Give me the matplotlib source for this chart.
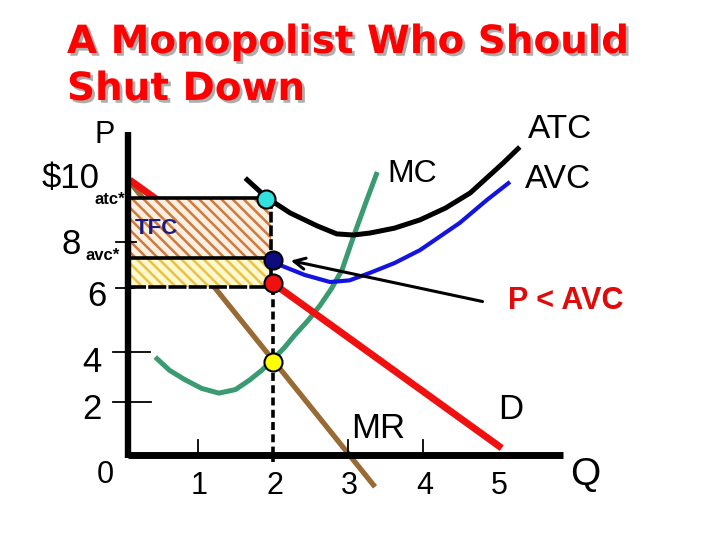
"""
Monopolist shut-down diagram (price below average variable cost)
"""

import matplotlib
matplotlib.use("Agg")
import matplotlib.pyplot as plt
import matplotlib.patheffects as pe
from matplotlib.patches import Rectangle

# straight lines: demand and marginal revenue (end points)
demand_q = [0.09, 5.05]
demand_p = [10.0, 0.25]
mr_q = [0.09, 3.36]
mr_p = [9.93, -1.16]

# cost curves
mc_q = [0.43, 0.62, 0.83, 1.05, 1.28, 1.50, 1.69, 1.85, 1.99, 2.15, 2.29, 2.47, 2.63, 2.78, 2.92, 3.09, 3.25, 3.39]
mc_p = [3.56, 3.08, 2.73, 2.42, 2.25, 2.38, 2.73, 3.08, 3.45, 3.90, 4.36, 4.90, 5.45, 6.05, 6.73, 8.07, 9.27, 10.29]

atc_q = [1.63, 1.92, 2.23, 2.59, 2.85, 3.07, 3.29, 3.62, 3.96, 4.30, 4.63, 5.07, 5.29]
atc_p = [10.07, 9.35, 8.80, 8.33, 8.04, 8.00, 8.07, 8.25, 8.55, 8.98, 9.53, 10.62, 11.20]

avc_q = [2.00, 2.09, 2.42, 2.76, 3.02, 3.29, 3.62, 3.96, 4.49, 4.85, 5.16]
avc_p = [7.09, 6.91, 6.55, 6.29, 6.35, 6.62, 6.98, 7.45, 8.44, 9.27, 9.93]

# chosen output and the levels at that output
q_star = 2.0
rect_left = 0.06
rect_right = 1.97
atc_star = 9.35
avc_star = 7.15
price_star = 6.1
mr_star = 3.38

# axis ticks
ytick_p = [7.75, 6.07, 3.75, 1.93]
ytick_len = [0.17, 0.15, 0.40, 0.41]
xtick_q = [1, 3, 4]
xtick_labels = ["1", "2", "3", "4", "5"]
xtick_label_q = [1, 2, 3, 4, 5]

# arrow from the "P < AVC" note to the AVC point
arrow_tail = (4.83, 5.56)
arrow_head = (2.20, 7.09)

plt.rcParams["font.family"] = ["Liberation Sans", "DejaVu Sans"]
plt.rcParams["hatch.linewidth"] = 1.8

fig = plt.figure(figsize=(7.2, 5.4), dpi=100)
ax = fig.add_axes([0, 0, 1, 1])
ax.set_xlim(-123 / 75, (720 - 123) / 75)
ax.set_ylim((455 - 540) / 27.5, 455 / 27.5)
ax.axis("off")

# curves
curve = dict(solid_capstyle="butt", solid_joinstyle="round")
ax.plot(mr_q, mr_p, color="#9a6a34", lw=3.8, zorder=2, **curve)
ax.plot(demand_q, demand_p, color="#f01010", lw=5, zorder=3, **curve)
ax.plot(mc_q, mc_p, color="#3a9a72", lw=3.6, zorder=2, **curve)
ax.plot(atc_q, atc_p, color="black", lw=3.6, zorder=2, **curve)
ax.plot(avc_q, avc_p, color="#1414e0", lw=3.0, zorder=2, **curve)

# fixed cost and variable cost areas
ax.add_patch(Rectangle((rect_left, avc_star), rect_right - rect_left, atc_star - avc_star,
                       facecolor="#fbefe2", edgecolor="#cf7a3c", hatch="\\\\\\", lw=0, zorder=4))
ax.add_patch(Rectangle((rect_left, price_star), rect_right - rect_left, avc_star - price_star,
                       facecolor="#fff7cf", edgecolor="#e7c445", hatch="\\\\\\", lw=0, zorder=4))
ax.plot([rect_left, rect_right], [atc_star, atc_star], color="black", lw=2.6, zorder=5)
ax.plot([rect_left, rect_right], [avc_star, avc_star], color="black", lw=2.6, zorder=5)
ax.plot([rect_left, rect_right], [price_star, price_star], color="black", lw=2.6,
        ls=(0, (5, 0.6)), zorder=5)
ax.plot([rect_right, rect_right], [atc_star, price_star], color="black", lw=2.6,
        ls=(0, (3, 0.8)), zorder=5)
ax.plot([q_star, q_star], [price_star, -0.25], color="black", lw=2.6,
        ls=(0, (2.2, 1.2)), zorder=5)

# axes
ax.plot([0.06, 0.06], [-0.1, 11.75], color="black", lw=4.6, solid_capstyle="butt", zorder=6)
ax.plot([0.07, 5.86], [0, 0], color="black", lw=5, solid_capstyle="butt", zorder=6)
for p, ln in zip(ytick_p, ytick_len):
    x0 = -0.14 if ln > 0.3 else -0.1
    ax.plot([x0, x0 + ln + 0.1], [p, p], color="black", lw=1.3, zorder=6)
for q in xtick_q:
    ax.plot([q, q], [0, 0.55], color="black", lw=1.3, zorder=6)

# points
ax.plot(1.91, 9.3, "o", ms=13, mfc="#33e0e0", mec="black", mew=1.5, zorder=8)
ax.plot(q_star, 7.09, "o", ms=13, mfc="#0c0c80", mec="black", mew=1.5, zorder=8)
ax.plot(q_star, 6.25, "o", ms=13, mfc="#f01010", mec="black", mew=1.5, zorder=8)
ax.plot(q_star, mr_star, "o", ms=13, mfc="#ffff00", mec="black", mew=1.5, zorder=8)

ax.annotate("", xy=arrow_head, xytext=arrow_tail,
            arrowprops=dict(arrowstyle="->", color="black", lw=2.2,
                            mutation_scale=20), zorder=7)

# axis labels
big = dict(ha="center", va="center", color="black", fontsize=25)
ax.text(-0.24, 11.64, "P", **dict(big, fontsize=22))
ax.text(-0.70, 10.05, "$10", **big)
ax.text(-0.69, 7.67, "8", **big)
ax.text(-0.35, 5.75, "6", **big)
ax.text(-0.41, 3.35, "4", **big)
ax.text(-0.41, 1.64, "2", **big)
ax.text(-0.24, -0.73, "0", **dict(big, fontsize=22))
for q, lab in zip(xtick_label_q, xtick_labels):
    ax.text(q + 0.02, -1.12, lab, ha="center", va="center", fontsize=22)
ax.text(6.16, -0.73, "Q", ha="center", va="center", fontsize=28)
ax.text(-0.18, 9.3, "atc*", ha="center", va="center", fontsize=12, fontweight="bold")
ax.text(-0.27, 7.24, "avc*", ha="center", va="center", fontsize=12, fontweight="bold")
ax.text(0.44, 8.25, "TFC", ha="center", va="center", fontsize=16, fontweight="bold",
        color="#1a1a80", zorder=9)

# curve labels
ax.text(3.4, 0.98, "MR", ha="center", va="center", fontsize=25)
ax.text(5.17, 1.64, "D", ha="center", va="center", fontsize=25)
ax.text(3.85, 10.22, "MC", ha="center", va="center", fontsize=23)
ax.text(5.83, 11.82, "ATC", ha="center", va="center", fontsize=24)
ax.text(5.8, 10.0, "AVC", ha="center", va="center", fontsize=24)
ax.text(5.9, 5.6, "P < AVC", ha="center", va="center", fontsize=22, fontweight="bold",
        color="#e00a0a")

# title
shadow = [pe.SimplePatchShadow(offset=(2, -2), shadow_rgbFace="#999999", alpha=0.8), pe.Normal()]
fig.text(67 / 720, 1 - 53 / 540, "A Monopolist Who Should", ha="left", va="baseline",
         fontsize=28, fontweight="bold", color="#ff0000", family="DejaVu Sans",
         path_effects=shadow)
fig.text(67 / 720, 1 - 100 / 540, "Shut Down", ha="left", va="baseline",
         fontsize=28, fontweight="bold", color="#ff0000", family="DejaVu Sans",
         path_effects=shadow)

fig.savefig("out.png", dpi=100)
